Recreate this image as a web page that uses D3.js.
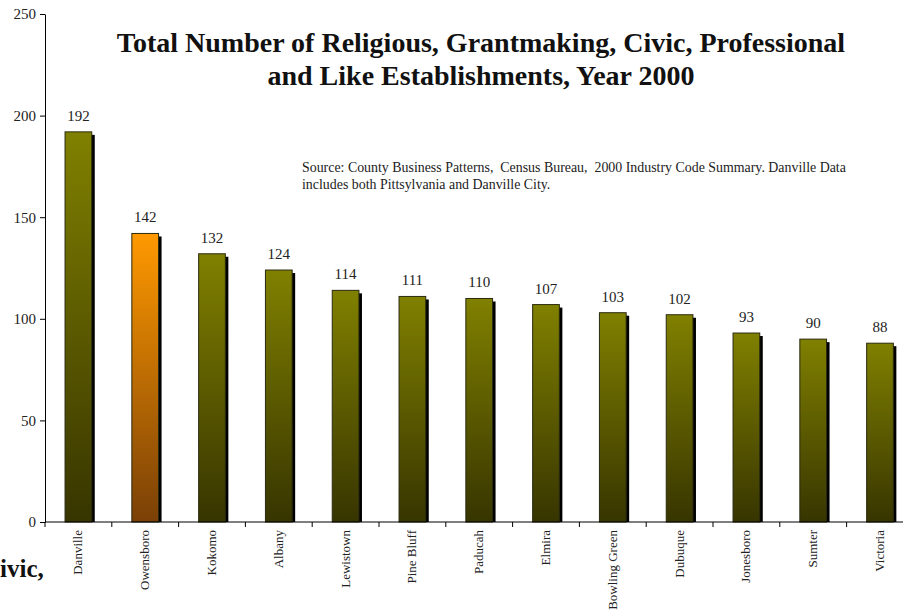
<!DOCTYPE html>
<html>
<head>
<meta charset="utf-8">
<script src="https://cdn.jsdelivr.net/npm/d3@7"></script>
<style>
  html, body { margin: 0; padding: 0; background: #fff; overflow: hidden; }
  svg { display: block; }
  text { font-family: "Liberation Serif", "DejaVu Serif", serif; }
</style>
</head>
<body>
<svg id="chart" width="903" height="611"></svg>
<script>
// Establishment counts by city, year 2000
const cities = ["Danville", "Owensboro", "Kokomo", "Albany", "Lewistown", "Pine Bluff",
  "Paducah", "Elmira", "Bowling Green", "Dubuque", "Jonesboro", "Sumter", "Victoria"];
const counts = [192, 142, 132, 124, 114, 111, 110, 107, 103, 102, 93, 90, 88];
const highlighted = ["Owensboro"];
const yTicks = [0, 50, 100, 150, 200, 250];
const titleLines = ["Total Number of Religious, Grantmaking, Civic, Professional",
  "and Like Establishments, Year 2000"];
const sourceLines = ["Source: County Business Patterns,  Census Bureau,  2000 Industry Code Summary. Danville Data",
  "includes both Pittsylvania and Danville City."];

const svg = d3.select("#chart");
const margin = { left: 45, top: 14, bottom: 522 };
const step = 66.8;

const x = d3.scaleBand()
  .domain(cities)
  .range([margin.left, margin.left + step * cities.length])
  .paddingInner(0.6)
  .paddingOuter(0.3);

const y = d3.scaleLinear().domain([0, 250]).range([margin.bottom, margin.top]);

// Gradients: olive bars and one orange highlight
const defs = svg.append("defs");
function grad(id, top, bottom) {
  const g = defs.append("linearGradient").attr("id", id)
    .attr("x1", 0).attr("y1", 0).attr("x2", 0).attr("y2", 1);
  g.append("stop").attr("offset", "0%").attr("stop-color", top);
  g.append("stop").attr("offset", "100%").attr("stop-color", bottom);
}
grad("olive", "#808000", "#373500");
grad("orange", "#ff9900", "#7a4006");

const data = cities.map((c, i) => ({ city: c, value: counts[i] }));
const bw = x.bandwidth();

// Drop shadows
svg.append("g").selectAll("rect").data(data).join("rect")
  .attr("x", d => x(d.city) + 3)
  .attr("y", d => y(d.value) + 3)
  .attr("width", bw)
  .attr("height", d => y(0) - y(d.value) - 3)
  .attr("fill", "#000");

// Bars
svg.append("g").selectAll("rect").data(data).join("rect")
  .attr("x", d => x(d.city))
  .attr("y", d => y(d.value))
  .attr("width", bw)
  .attr("height", d => y(0) - y(d.value))
  .attr("fill", d => highlighted.includes(d.city) ? "url(#orange)" : "url(#olive)")
  .attr("stroke", "#2a2a10")
  .attr("stroke-width", 1);

// Value labels
svg.append("g").selectAll("text").data(data).join("text")
  .attr("x", d => x(d.city) + bw / 2)
  .attr("y", d => y(d.value) - 11)
  .attr("text-anchor", "middle")
  .attr("font-size", 15)
  .attr("fill", "#222")
  .text(d => d.value);

// Y axis
const yAxis = svg.append("g")
  .attr("transform", `translate(${margin.left},0)`)
  .call(d3.axisLeft(y).tickValues(yTicks).tickSize(5).tickSizeOuter(0));
yAxis.select(".domain").attr("stroke", "#000");
yAxis.selectAll(".tick line").attr("stroke", "#000");
yAxis.selectAll(".tick text")
  .attr("font-family", "Liberation Serif, serif")
  .attr("font-size", 15).attr("fill", "#222").attr("x", -9);

// X axis: ticks between categories
const xAxisG = svg.append("g").attr("transform", `translate(0,${margin.bottom})`);
xAxisG.append("line")
  .attr("x1", margin.left).attr("x2", x.range()[1])
  .attr("stroke", "#000");
const borders = d3.range(cities.length + 1).map(i => margin.left + i * step);
xAxisG.selectAll("line.tk").data(borders).join("line").attr("class", "tk")
  .attr("x1", d => d).attr("x2", d => d)
  .attr("y1", 0).attr("y2", 5)
  .attr("stroke", "#000");
xAxisG.selectAll("text").data(cities).join("text")
  .attr("transform", d => `translate(${x(d) + bw / 2 + 4},8) rotate(-90)`)
  .attr("text-anchor", "end")
  .attr("font-size", 13)
  .attr("fill", "#222")
  .text(d => d);

// Title
svg.append("g").selectAll("text").data(titleLines).join("text")
  .attr("x", 481)
  .attr("y", (d, i) => 52 + i * 33)
  .attr("text-anchor", "middle")
  .attr("font-size", 28)
  .attr("font-weight", "bold")
  .attr("fill", "#111")
  .text(d => d);

// Source note
svg.append("g").selectAll("text").data(sourceLines).join("text")
  .attr("x", 302)
  .attr("y", (d, i) => 172 + i * 17)
  .attr("font-size", 13.9)
  .attr("fill", "#222")
  .style("white-space", "pre")
  .text(d => d);

// Heading fragment at the lower left edge
svg.append("text")
  .attr("x", 0).attr("y", 577)
  .attr("font-size", 25)
  .attr("font-weight", "bold")
  .attr("fill", "#111")
  .text("ivic,");
</script>
</body>
</html>
